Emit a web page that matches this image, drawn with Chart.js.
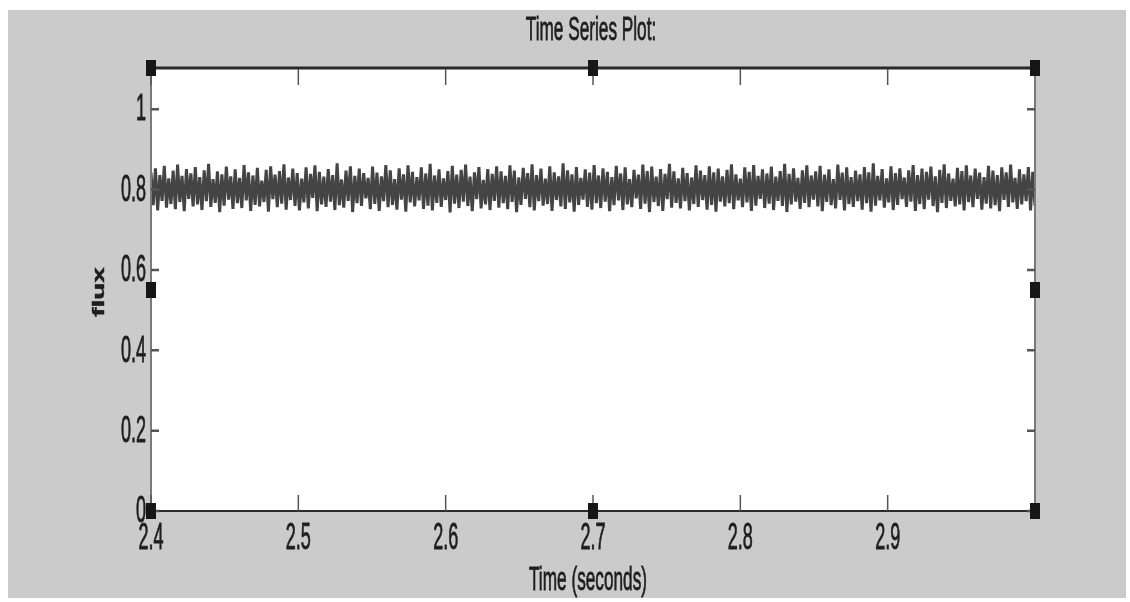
<!DOCTYPE html>
<html>
<head>
<meta charset="utf-8">
<title>Time Series Plot</title>
<script src="https://cdn.jsdelivr.net/npm/chart.js@4.4.1/dist/chart.umd.min.js"></script>
<style>
  html, body { margin: 0; padding: 0; background: #ffffff; }
  #wrap { width: 1130px; height: 602px; }
</style>
</head>
<body>
<div id="wrap"><canvas id="fluxChart"></canvas></div>
<script>
// flux samples logged between 2.4 s and 3.0 s
const tStart = 2.4;
const tEnd = 3.0;
const flux = [
  0.842, 0.761, 0.853, 0.748, 0.836, 0.772, 0.859, 0.755, 0.828, 0.764, 0.847, 0.751, 0.862, 0.769, 0.834, 0.746, 0.851, 0.777, 0.840, 0.758,
  0.856, 0.763, 0.831, 0.749, 0.848, 0.771, 0.864, 0.757, 0.826, 0.767, 0.845, 0.744, 0.838, 0.760, 0.857, 0.775, 0.833, 0.752, 0.850, 0.766,
  0.829, 0.754, 0.861, 0.773, 0.843, 0.747, 0.835, 0.762, 0.854, 0.758, 0.822, 0.769, 0.849, 0.745, 0.858, 0.776, 0.837, 0.756, 0.846, 0.765,
  0.863, 0.750, 0.830, 0.774, 0.852, 0.759, 0.841, 0.748, 0.827, 0.768, 0.855, 0.753, 0.839, 0.779, 0.860, 0.746, 0.844, 0.763, 0.832, 0.757,
  0.851, 0.770, 0.836, 0.749, 0.865, 0.761, 0.825, 0.755, 0.847, 0.772, 0.858, 0.744, 0.834, 0.766, 0.852, 0.759, 0.841, 0.778, 0.829, 0.751,
  0.857, 0.764, 0.842, 0.747, 0.833, 0.771, 0.861, 0.756, 0.848, 0.762, 0.826, 0.750, 0.853, 0.775, 0.838, 0.745, 0.860, 0.768, 0.844, 0.758,
  0.831, 0.773, 0.855, 0.752, 0.840, 0.760, 0.864, 0.748, 0.835, 0.767, 0.850, 0.757, 0.828, 0.774, 0.846, 0.743, 0.859, 0.765, 0.837, 0.754,
  0.849, 0.770, 0.862, 0.759, 0.832, 0.746, 0.843, 0.776, 0.856, 0.753, 0.824, 0.763, 0.851, 0.749, 0.839, 0.772, 0.858, 0.755, 0.845, 0.766,
  0.834, 0.751, 0.860, 0.769, 0.847, 0.744, 0.830, 0.762, 0.854, 0.777, 0.841, 0.756, 0.863, 0.748, 0.836, 0.771, 0.852, 0.760, 0.827, 0.764,
  0.858, 0.747, 0.843, 0.774, 0.833, 0.758, 0.865, 0.752, 0.848, 0.768, 0.838, 0.745, 0.856, 0.762, 0.829, 0.775, 0.850, 0.757, 0.842, 0.750,
  0.861, 0.766, 0.835, 0.754, 0.853, 0.770, 0.844, 0.746, 0.831, 0.761, 0.859, 0.773, 0.840, 0.749, 0.855, 0.763, 0.826, 0.756, 0.849, 0.778,
  0.837, 0.752, 0.862, 0.765, 0.846, 0.744, 0.857, 0.769, 0.832, 0.759, 0.851, 0.747, 0.839, 0.776, 0.864, 0.755, 0.845, 0.767, 0.828, 0.753,
  0.854, 0.771, 0.841, 0.748, 0.830, 0.764, 0.860, 0.757, 0.847, 0.774, 0.836, 0.750, 0.858, 0.762, 0.843, 0.745, 0.852, 0.770, 0.833, 0.758,
  0.849, 0.766, 0.863, 0.751, 0.838, 0.773, 0.827, 0.756, 0.855, 0.768, 0.844, 0.747, 0.861, 0.760, 0.834, 0.777, 0.850, 0.754, 0.840, 0.765,
  0.857, 0.749, 0.832, 0.772, 0.846, 0.759, 0.864, 0.744, 0.839, 0.763, 0.853, 0.770, 0.829, 0.752, 0.848, 0.767, 0.860, 0.756, 0.835, 0.775,
  0.845, 0.758, 0.859, 0.746, 0.837, 0.769, 0.850, 0.761, 0.826, 0.753, 0.862, 0.774, 0.842, 0.748, 0.855, 0.764, 0.831, 0.757, 0.847, 0.771,
  0.838, 0.750, 0.856, 0.766, 0.843, 0.745, 0.865, 0.760, 0.834, 0.773, 0.851, 0.755, 0.828, 0.768, 0.858, 0.749, 0.841, 0.762, 0.853, 0.776,
  0.830, 0.757, 0.848, 0.770, 0.861, 0.747, 0.836, 0.764, 0.852, 0.751, 0.844, 0.775, 0.857, 0.759, 0.833, 0.744, 0.849, 0.767, 0.863, 0.754,
  0.840, 0.772, 0.827, 0.758, 0.854, 0.763, 0.846, 0.748, 0.860, 0.769, 0.835, 0.756, 0.852, 0.777, 0.842, 0.750, 0.831, 0.765, 0.859, 0.753,
  0.847, 0.761, 0.836, 0.746, 0.855, 0.774, 0.843, 0.757, 0.862, 0.768, 0.829, 0.752, 0.850, 0.763, 0.838, 0.771, 0.856, 0.748, 0.844, 0.760
];
const xTicks = [2.4, 2.5, 2.6, 2.7, 2.8, 2.9];
const xTickLabels = ['2.4', '2.5', '2.6', '2.7', '2.8', '2.9'];
const yTicks = [0, 0.2, 0.4, 0.6, 0.8, 1];
const yTickLabels = ['0', '0.2', '0.4', '0.6', '0.8', '1'];
const titleText = 'Time Series Plot:';
const xTitle = 'Time (seconds)';
const yTitle = 'flux';

// evenly sampled time base
const step = (tEnd - tStart) / (flux.length - 1);
const points = flux.map((v, i) => ({ x: tStart + i * step, y: v }));

// text in this figure is tall and narrow, so draw it through a scaled context
function drawText(ctx, text, x, y, opts) {
    ctx.save();
    ctx.translate(x, y);
    if (opts.rotate) ctx.rotate(opts.rotate);
    ctx.scale(opts.sx || 0.82, opts.sy || 1.7);
    ctx.font = opts.font || '22px "Liberation Sans", Arial, sans-serif';
    ctx.fillStyle = opts.color || '#1e1e1e';
    ctx.strokeStyle = opts.color || '#1e1e1e';
    ctx.lineWidth = 0.5;
    ctx.textAlign = opts.align || 'center';
    ctx.textBaseline = 'middle';
    ctx.fillText(text, 0, 0);
    ctx.strokeText(text, 0, 0);
    ctx.restore();
}

const figureBackground = {
    id: 'figureBackground',
    beforeDraw(chart) {
        const ctx = chart.ctx;
        const a = chart.chartArea;
        ctx.save();
        ctx.fillStyle = '#ffffff';
        ctx.fillRect(0, 0, chart.width, chart.height);
        ctx.fillStyle = '#cbcbcb';
        ctx.fillRect(8, 10, chart.width - 12, chart.height - 14);
        ctx.fillStyle = '#ffffff';
        ctx.fillRect(a.left, a.top, a.right - a.left, a.bottom - a.top);
        ctx.restore();
    }
};

const axesFrame = {
    id: 'axesFrame',
    afterDraw(chart) {
        const ctx = chart.ctx;
        const a = chart.chartArea;
        const xs = chart.scales.x;
        const ys = chart.scales.y;
        ctx.save();

        // box
        ctx.strokeStyle = '#7a7a7a';
        ctx.lineWidth = 2;
        ctx.beginPath();
        ctx.moveTo(a.left, a.top); ctx.lineTo(a.left, a.bottom);
        ctx.moveTo(a.right, a.top); ctx.lineTo(a.right, a.bottom);
        ctx.stroke();
        ctx.strokeStyle = '#2a2a2a';
        ctx.lineWidth = 2;
        ctx.beginPath();
        ctx.moveTo(a.left, a.bottom); ctx.lineTo(a.right, a.bottom);
        ctx.stroke();
        ctx.lineWidth = 3;
        ctx.beginPath();
        ctx.moveTo(a.left, a.top - 1); ctx.lineTo(a.right, a.top - 1);
        ctx.stroke();

        // inward ticks on all four sides
        ctx.strokeStyle = '#555555';
        ctx.lineWidth = 1.5;
        xTicks.forEach(v => {
            const px = xs.getPixelForValue(v);
            ctx.beginPath();
            ctx.moveTo(px, a.bottom); ctx.lineTo(px, a.bottom - 16);
            ctx.moveTo(px, a.top); ctx.lineTo(px, a.top + 16);
            ctx.stroke();
        });
        ctx.lineWidth = 2.5;
        yTicks.forEach(v => {
            const py = ys.getPixelForValue(v);
            ctx.beginPath();
            ctx.moveTo(a.left, py); ctx.lineTo(a.left + 8, py);
            ctx.moveTo(a.right, py); ctx.lineTo(a.right - 8, py);
            ctx.stroke();
        });

        // selection handles
        ctx.fillStyle = '#161616';
        const midX = (a.left + a.right) / 2;
        const midY = (a.top + a.bottom) / 2;
        [[a.left, a.top - 1], [midX, a.top - 1], [a.right, a.top - 1],
         [a.left, midY], [a.right, midY],
         [a.left, a.bottom], [midX, a.bottom], [a.right, a.bottom]].forEach(([hx, hy]) => {
            ctx.fillRect(hx - 5, hy - 8, 10, 16);
        });

        // tick labels
        xTicks.forEach((v, i) => {
            drawText(ctx, xTickLabels[i], xs.getPixelForValue(v), a.bottom + 28, {});
        });
        yTicks.forEach((v, i) => {
            drawText(ctx, yTickLabels[i], a.left - 5, ys.getPixelForValue(v) + 1, { align: 'right' });
        });

        // titles
        drawText(ctx, titleText, midX - 2, 31, { font: '21px "Liberation Sans", Arial, sans-serif', sy: 1.6 });
        drawText(ctx, xTitle, midX - 5, 581, { font: '21px "Liberation Sans", Arial, sans-serif', sy: 1.6 });
        drawText(ctx, yTitle, 100, midY + 2, {
            font: 'bold 18px "Liberation Sans", Arial, sans-serif',
            rotate: -Math.PI / 2, sx: 1.55, sy: 0.9
        });
        ctx.restore();
    }
};

const config = {
    type: 'line',
    data: {
        datasets: [{
            label: yTitle,
            data: points,
            borderColor: '#444444',
            borderWidth: 3,
            pointRadius: 0,
            tension: 0,
            fill: false
        }]
    },
    options: {
        responsive: true,
        maintainAspectRatio: false,
        animation: false,
        events: [],
        layout: { padding: { top: 69, right: 95, left: 0, bottom: 0 } },
        plugins: {
            legend: { display: false },
            tooltip: { enabled: false }
        },
        scales: {
            x: {
                type: 'linear',
                min: tStart,
                max: tEnd,
                grid: { display: false },
                border: { display: false },
                ticks: { display: false },
                afterFit: s => { s.height = 91; }
            },
            y: {
                type: 'linear',
                min: 0,
                max: 1.1,
                grid: { display: false },
                border: { display: false },
                ticks: { display: false },
                afterFit: s => { s.width = 151; }
            }
        }
    },
    plugins: [figureBackground, axesFrame]
};

new Chart(document.getElementById('fluxChart'), config);
</script>
</body>
</html>
